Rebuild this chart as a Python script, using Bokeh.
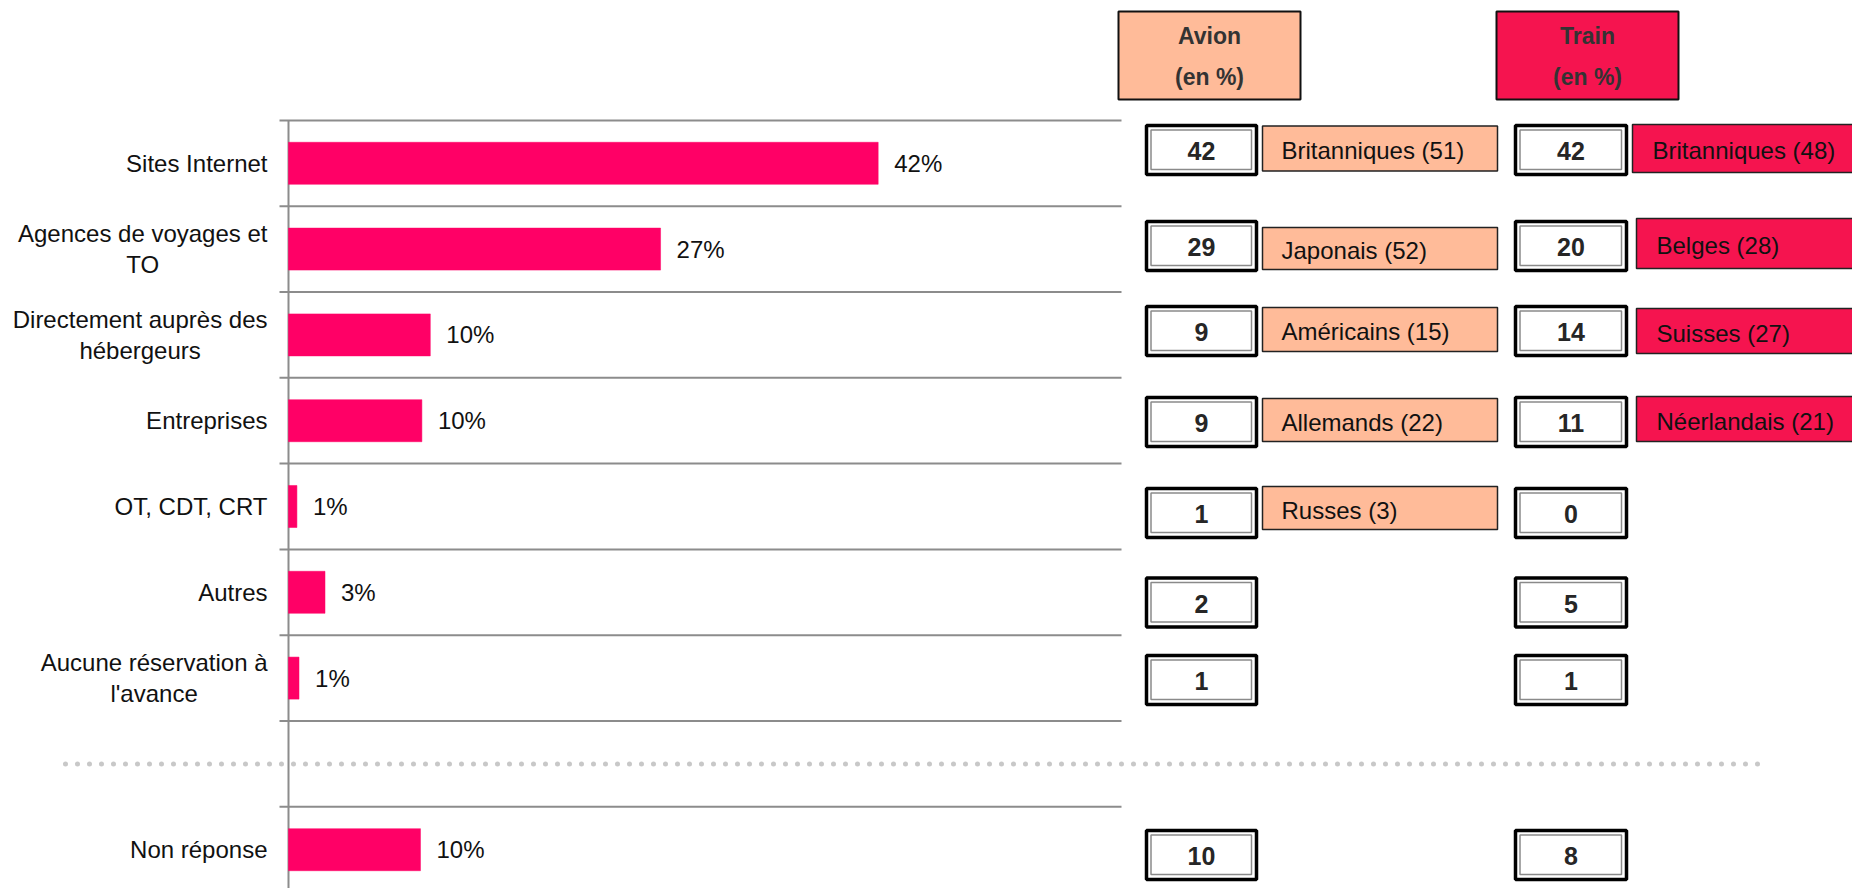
from bokeh.plotting import figure
from bokeh.models import Range1d, ColumnDataSource
from bokeh.core.properties import value
from bokeh.embed import file_html
from bokeh.resources import INLINE

# ---------------- data ----------------
categories = [
    "Sites Internet",
    "Agences de voyages et\nTO",
    "Directement auprès des\nhébergeurs",
    "Entreprises",
    "OT, CDT, CRT",
    "Autres",
    "Aucune réservation à\nl'avance",
    "Non réponse",
]
shares = [42.0, 26.5, 10.1, 9.5, 0.6, 2.6, 0.75, 9.4]
share_labels = ["42%", "27%", "10%", "10%", "1%", "3%", "1%", "10%"]

avion_values = [42, 29, 9, 9, 1, 2, 1, 10]
train_values = [42, 20, 14, 11, 0, 5, 1, 8]

avion_top = ["Britanniques (51)", "Japonais (52)", "Américains (15)", "Allemands (22)", "Russes (3)"]
train_top = ["Britanniques (48)", "Belges (28)", "Suisses (27)", "Néerlandais (21)"]

headers = ["Avion\n(en %)", "Train\n(en %)"]

# ---------------- layout (page pixels) ----------------
W, H = 1852, 888
PAGE = 0
AXIS_X = 288.0
PX_PCT = 14.04
ROW0_Y = 162.8
ROW_PX = 85.8

def ux(px):
    return (px - AXIS_X) / PX_PCT

def uy(py):
    return (py - ROW0_Y) / ROW_PX

PINK = "#FF0066"
PEACH = "#FFBB99"
CRIMSON = "#F5144F"
GRID = "#8c8c8c"
FONT = value("Liberation Sans")

# rows: last category after a gap row
rows = [i if i < 7 else i + 1 for i in range(len(categories))]
gap_row = 7

p = figure(width=W, height=H, output_backend="svg", toolbar_location=None,
           x_range=Range1d(ux(PAGE), ux(PAGE + W)),
           y_range=Range1d(uy(PAGE + H), uy(PAGE)),
           x_axis_location=None, y_axis_location=None, min_border=0)
p.grid.visible = False
p.outline_line_color = None
p.background_fill_color = "white"

# separators
sep_y = [r + 0.5 for r in range(-1, rows[-1])]
p.segment(x0=ux(279), x1=ux(1121), y0=sep_y, y1=sep_y, line_color=GRID, line_width=2)
# vertical axis line
p.segment(x0=[0], x1=[0], y0=[-0.5], y1=[uy(PAGE + H + 20)], line_color=GRID, line_width=2)
# dotted divider
p.segment(x0=[ux(65)], x1=[ux(1762)], y0=[gap_row], y1=[gap_row], line_color="#c8c8c8",
          line_width=5, line_dash="0 12", line_cap="round")

# bars
src = ColumnDataSource(dict(y=rows, v=shares, lab=share_labels, cat=categories))
p.hbar(y="y", left=0, right="v", height=0.49, fill_color=PINK, line_color=PINK, line_width=0.5, source=src)
p.text(x="v", y="y", text="lab", x_offset=16, text_align="left", text_baseline="middle",
       text_font=FONT, text_font_size="24px", text_color="#111111", source=src)
p.text(x=ux(267), y="y", text="cat", anchor="center_right", text_align="center",
       text_baseline="middle", text_line_height=1.13,
       text_font=FONT, text_font_size="24px", text_color="#111111", source=src)

# headers
hx = [(1118, 1300), (1496, 1678)]
p.quad(left=[ux(a) for a, b in hx], right=[ux(b) for a, b in hx],
       top=[uy(11)] * 2, bottom=[uy(99)] * 2,
       fill_color=[PEACH, CRIMSON], line_color="#111111", line_width=2)
p.text(x=[ux((a + b) / 2) for a, b in hx], y=[uy(56)] * 2, text=headers,
       anchor="center", text_align="center", text_baseline="middle", text_line_height=1.6,
       text_font=FONT, text_font_size="23px", text_font_style="bold", text_color="#333333")

# number boxes
box_dy = [-13.3, -3.1, -3.9, 1.3, 6.5, 10.2, 1.9, 5.3]   # px nudge of box centres
half = 24.5
for (x0, x1), vals in [((1146, 1256), avion_values), ((1515, 1626), train_values)]:
    cy = [ROW0_Y + r * ROW_PX + d for r, d in zip(rows, box_dy)]
    p.quad(left=ux(x0), right=ux(x1), top=[uy(c - half) for c in cy], bottom=[uy(c + half) for c in cy],
           fill_color="white", line_color="#000000", line_width=3.5)
    p.quad(left=ux(x0 + 4.5), right=ux(x1 - 5), top=[uy(c - half + 4.5) for c in cy],
           bottom=[uy(c + half - 5) for c in cy],
           fill_color="white", line_color="#8a8a8a", line_width=1.5)
    p.text(x=ux((x0 + x1) / 2), y=[uy(c + 1) for c in cy], text=[str(v) for v in vals],
           text_align="center", text_baseline="middle",
           text_font=FONT, text_font_size="25px", text_font_style="bold", text_color="#262626")

# nationality boxes — Avion
av_c = [148, 248, 329, 419.5, 507.5]
av_h = [45, 42, 44, 43, 43]
p.quad(left=ux(1262), right=ux(1497), top=[uy(c - h / 2) for c, h in zip(av_c, av_h)],
       bottom=[uy(c + h / 2) for c, h in zip(av_c, av_h)],
       fill_color=PEACH, line_color="#222222", line_width=1.5)
p.text(x=ux(1281), y=[uy(c + 2) for c in av_c], text=avion_top,
       text_align="left", text_baseline="middle",
       text_font=FONT, text_font_size="24px", text_color="#111111")

# nationality boxes — Train
tr_c = [148, 243, 330.5, 418.5]
tr_h = [48, 50, 45, 45]
tr_l = [1632, 1636, 1636, 1636]
p.quad(left=[ux(l) for l in tr_l], right=ux(1870), top=[uy(c - h / 2) for c, h in zip(tr_c, tr_h)],
       bottom=[uy(c + h / 2) for c, h in zip(tr_c, tr_h)],
       fill_color=CRIMSON, line_color="#222222", line_width=1.5)
p.text(x=[ux(l + 20) for l in tr_l], y=[uy(c + 2) for c in tr_c], text=train_top,
       text_align="left", text_baseline="middle",
       text_font=FONT, text_font_size="24px", text_color="#111111")

open("out.html", "w").write(file_html(p, INLINE))
